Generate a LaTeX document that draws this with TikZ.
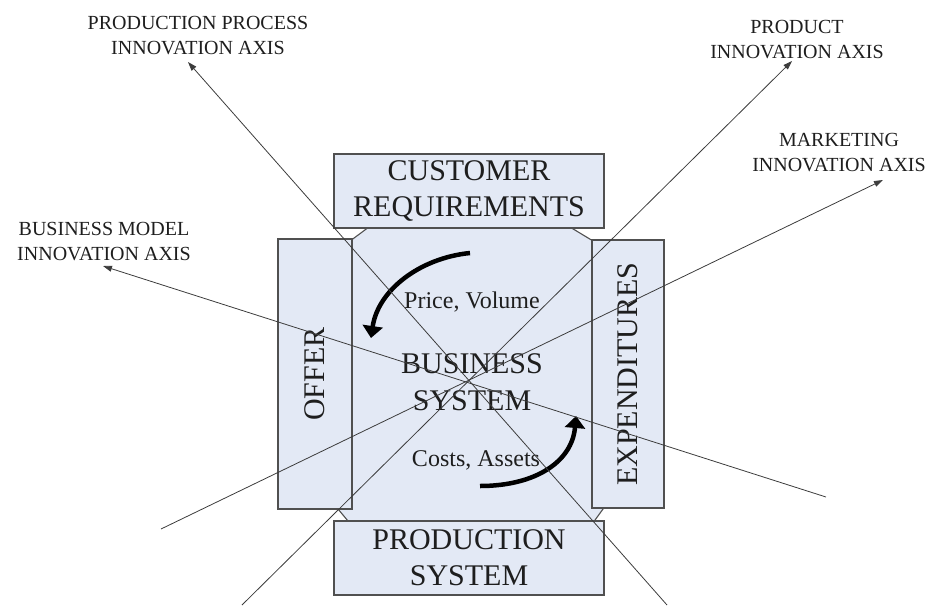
\documentclass[tikz,border=0pt]{standalone}
\usepackage{fontspec}
\setmainfont{Liberation Serif}
\usetikzlibrary{arrows.meta}
\definecolor{boxfill}{RGB}{227,233,245}
\definecolor{boxline}{RGB}{80,80,80}
\definecolor{axisline}{RGB}{60,60,60}
\definecolor{txt}{RGB}{30,30,30}
\tikzset{
  sidebox/.style={draw=boxline, line width=1.1pt, fill=boxfill, inner sep=0pt, align=center,
    text=txt, font=\fontsize{30}{36}\selectfont},
  axislabel/.style={align=center, text=txt, font=\fontsize{20}{25}\selectfont, inner sep=0pt},
  inlabel/.style={align=center, text=txt, inner sep=0pt},
  axis/.style={draw=axisline, line width=0.8pt, -{Triangle[length=9pt,width=6pt]}},
  flow/.style={draw=black, line width=4.5pt, -{Triangle[length=12pt,width=20pt]}}
}
\begin{document}
\begin{tikzpicture}[x=1pt,y=-1pt]
\useasboundingbox (0,0) rectangle (933,605);
% central octagon
\draw[boxline, line width=1.1pt, fill=boxfill]
  (381,218) -- (555,218) -- (603,247) -- (603,509) -- (590,527) -- (353,527) -- (338,509) -- (338,250) -- cycle;
% surrounding boxes
\node[sidebox, minimum width=270pt, minimum height=74pt] (cust) at (469,191) {CUSTOMER\\REQUIREMENTS};
\node[sidebox, minimum width=270pt, minimum height=74pt] (prod) at (469,558) {PRODUCTION\\SYSTEM};
\node[sidebox, rotate=90, minimum width=270pt, minimum height=74pt] (offer) at (315,374) {OFFER};
\node[sidebox, rotate=90, minimum width=268pt, minimum height=72pt] (exp) at (628,374) {EXPENDITURES};
% inner texts
\node[inlabel, font=\fontsize{30}{37}\selectfont] (bs) at (472,382) {BUSINESS\\SYSTEM};
\node[inlabel, font=\fontsize{24}{28}\selectfont] (pv) at (472,302) {Price, Volume};
\node[inlabel, font=\fontsize{24}{28}\selectfont] (ca) at (476,460) {Costs, Assets};
% flow arrows
\coordinate (f1s) at (470,253);
\coordinate (f1e) at (371,338);
\coordinate (f2s) at (480,486);
\coordinate (f2e) at (576,416);
\draw[flow] (f1s) .. controls (420,258) and (378,290) .. (f1e);
\draw[flow] (f2s) .. controls (535,486) and (572,462) .. (f2e);
% axis labels
\node[axislabel] (ppl) at (198,35.5) {PRODUCTION PROCESS\\INNOVATION AXIS};
\node[axislabel] (pdl) at (797,39.5) {PRODUCT\\INNOVATION AXIS};
\node[axislabel] (mkl) at (839,152.5) {MARKETING\\INNOVATION AXIS};
\node[axislabel] (bml) at (104,241.5) {BUSINESS MODEL\\INNOVATION AXIS};
% axes
\coordinate (pps) at (667,605);
\coordinate (ppe) at (188,62);
\coordinate (pds) at (242,605);
\coordinate (pde) at (792,61);
\coordinate (mks) at (161,529);
\coordinate (mke) at (883,180);
\coordinate (bms) at (826,497);
\coordinate (bme) at (103,266);
\draw[axis] (pps) -- (ppe);
\draw[axis] (pds) -- (pde);
\draw[axis] (mks) -- (mke);
\draw[axis] (bms) -- (bme);
\end{tikzpicture}
\end{document}
